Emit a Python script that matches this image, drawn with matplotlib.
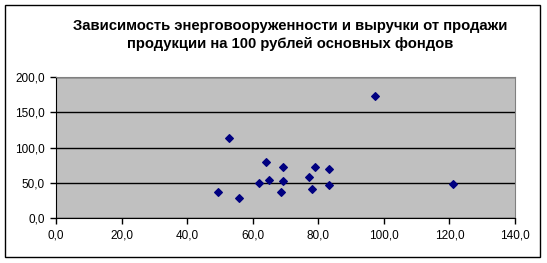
import matplotlib.pyplot as plt
from matplotlib.patches import Rectangle
from matplotlib.ticker import FuncFormatter

# energy ratio (x) vs revenue per 100 rub of fixed assets (y)
energy = [49.5, 52.7, 55.9, 62.0, 64.1, 65.0, 68.7, 69.3, 69.3,
          77.2, 78.1, 79.1, 83.3, 83.3, 97.4, 121.1]
revenue = [36.5, 113.0, 28.4, 49.2, 79.0, 53.5, 36.5, 71.9, 52.0,
           57.7, 40.7, 71.9, 69.0, 46.4, 172.6, 47.8]

title = "Зависимость энерговооруженности и выручки от продажи\nпродукции на 100 рублей основных фондов"

plt.rcParams['font.family'] = ['Liberation Sans', 'DejaVu Sans']

fig = plt.figure(figsize=(5.47, 2.63), dpi=100)
ax = fig.add_axes([56/547, 1-218/263, (515-56)/547, (218-77)/263])

ax.set_facecolor('#c0c0c0')
ax.scatter(energy, revenue, marker='D', s=15, color='#000080', zorder=3)

ax.set_xlim(0, 140)
ax.set_ylim(0, 200)
ax.set_xticks(range(0, 141, 20))
ax.set_yticks(range(0, 201, 50))
fmt = FuncFormatter(lambda v, p: f"{v:.1f}".replace('.', ','))
ax.xaxis.set_major_formatter(fmt)
ax.yaxis.set_major_formatter(fmt)
ax.tick_params(direction='out', length=4, width=1, labelsize=8.5, colors='black', pad=4)

ax.yaxis.grid(True, color='black', linewidth=1)
ax.set_axisbelow(True)
for s in ['top', 'right']:
    ax.spines[s].set_color('#808080')
for s in ['left', 'bottom']:
    ax.spines[s].set_color('black')

fig.text(290/547, 1-35/263, title, ha='center', va='center', fontsize=10.7,
         fontweight='bold', linespacing=1.3)

fig.patches.append(Rectangle((5/547, 6/263), 535/547, 252/263, transform=fig.transFigure,
                             fill=False, edgecolor='black', linewidth=1))

fig.savefig('out.png', dpi=100)
